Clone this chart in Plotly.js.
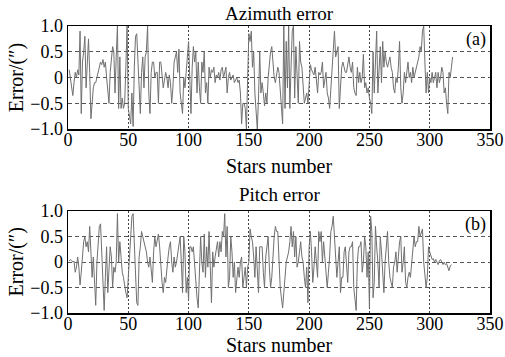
<!DOCTYPE html>
<html><head><meta charset="utf-8">
<script src="https://cdn.plot.ly/plotly-3.0.1.min.js"></script>
<style>html,body{margin:0;padding:0;background:#fff}#chart{width:505px;height:357px}</style>
</head><body><div id="chart"></div>
<script>
const azimuthError = [
 0.15, 0.0, -0.2, -0.35, -0.1, 0.1, 0.0, 0.15, 0.05, 0.9,
 -0.7, 0.3, 0.5, 0.8, -0.2, 0.3, 0.75, 0.1, -0.8, -0.5,
 -0.2, -0.1, -0.1, 0.0, 0.1, 0.2, 0.3, 0.25, 0.35, 0.2,
 0.3, 0.0, -0.2, -0.5, 0.1, 0.3, 0.6, 0.5, -0.3, 0.4,
 1.0, -0.6, 0.4, -0.6, -0.4, -0.6, -0.5, 0.2, 1.0, -0.6,
 -0.8, -0.9, -0.3, -0.95, 0.2, 0.8, 0.85, 0.3, -0.3, -0.7,
 0.1, 0.4, -0.2, 0.4, 0.5, 1.0, -0.3, -0.7, 0.1, 0.3,
 0.3, 0.0, 0.1, 0.1, -0.5, 0.3, 0.3, 0.0, -0.2, -0.05,
 0.1, 0.0, -0.2, 0.05, -0.1, -0.5, -0.2, 0.3, 0.4, 0.5,
 0.1, 0.55, -0.3, -0.5, -0.7, 0.0, -0.2, 0.1, 0.4, 0.7,
 0.0, -0.7, 0.2, 0.6, 0.3, 0.5, -0.3, 0.3, -0.2, -0.5,
 0.3, 0.1, 0.5, -0.3, -0.1, -0.5, 0.2, 0.0, 0.15, 0.1,
 0.2, -0.1, 0.05, 0.0, 0.1, -0.05, 0.15, 0.2, 0.0, 0.1,
 0.2, -0.3, 0.0, 0.1, -0.05, 0.0, 0.05, -0.1, -0.05, 0.0,
 -0.1, -0.05, -0.3, -0.9, -0.5, -0.5, -0.6, -1.0, 0.0, 0.85,
 0.7, 0.9, 0.2, 0.5, -0.3, -0.6, -1.0, -0.4, 0.5, -0.3,
 -0.1, -0.3, -0.55, -0.3, -0.5, 0.0, 0.3, 0.5, 0.6, 0.3,
 0.0, -0.1, 0.1, 0.2, 0.1, -0.3, -0.5, -0.9, 1.0, -0.6,
 0.7, -0.2, 1.0, -0.6, 0.2, 0.9, 1.0, -0.4, 0.6, -0.2,
 -0.5, 0.7, 0.3, 0.2, -0.3, -0.5, -0.4, -0.3, -0.5, 0.0,
 0.25, 0.15, 0.1, 0.05, 0.2, 0.0, -0.3, 0.1, 0.05, 0.1,
 0.3, -0.2, 0.0, 0.1, -0.3, -0.4, -0.6, -0.2, 0.3, 0.6,
 0.9, 0.4, 0.5, 0.6, -0.6, -0.1, 0.2, 0.3, 0.2, 0.1,
 0.1, 0.3, 0.4, 0.2, 0.1, 0.3, -0.2, -0.3, -0.35, 0.2,
 -0.1, 0.1, -0.1, 0.0, 0.45, -0.2, -0.1, -0.3, -0.2, -0.4,
 -0.5, -0.7, 0.5, -0.3, 0.2, 0.9, -0.3, 0.3, 0.6, -0.1,
 0.7, 0.2, 0.5, 0.3, 0.2, 0.3, 0.4, 0.2, 0.1, -0.2,
 -0.3, 0.0, -0.1, 0.2, 0.7, -0.2, -0.5, -0.3, 0.1, -0.1,
 0.1, 0.3, 0.0, 0.1, -0.1, 0.2, 0.0, 0.1, 0.2, 0.3,
 0.4, 0.6, 0.5, 0.9, 1.0, 0.3, -0.3, 0.1, -0.3, 0.0,
 -0.1, 0.1, -0.1, 0.0, 0.1, -0.2, 0.1, -0.1, 0.0, 0.2,
 0.1, -0.3, -0.2, -0.5, -0.7, 0.1, 0.0, 0.2, 0.4
];
const pitchError = [
 0.02, 0.05, 0.03, 0.0, 0.02, -0.2, -0.1, 0.1, -0.1, -0.45,
 -0.2, 0.2, 0.4, 0.5, 0.3, 0.4, 0.2, 0.7, 0.2, -0.3,
 0.1, -0.3, -0.85, 0.0, 0.5, 0.7, 0.75, 0.2, -0.5, -0.95,
 -0.3, 0.3, -0.6, -0.2, 0.3, 0.1, -0.5, -0.1, -0.2, 0.0,
 0.95, 0.0, 0.4, 0.1, -0.2, -0.3, -0.5, -0.6, -0.7, -0.3,
 0.1, 0.5, 0.9, 0.95, 0.3, -0.3, -0.8, -0.85, 0.1, 0.3,
 0.6, 0.5, 0.4, 0.3, 0.2, 0.0, -0.1, 0.1, -0.2, -0.4,
 0.2, 0.5, 0.3, 0.4, 0.55, 0.3, -0.2, -0.4, -0.6, -0.3,
 -0.4, -0.1, 0.1, 0.3, 0.4, 0.0, -0.2, 0.1, -0.1, 0.0,
 0.2, 0.4, 0.5, 0.0, -0.6, 0.5, 0.2, -0.6, -0.3, -0.75,
 0.3, 0.3, 0.2, 0.3, -0.1, -0.5, -0.7, -0.9, -0.2, 0.5,
 0.0, -0.2, 0.55, -0.3, 0.3, -0.1, 0.6, -0.3, -0.8, 0.2,
 -0.1, 0.1, 0.3, 0.4, 0.1, 0.4, 0.2, 0.6, 0.5, 0.95,
 0.1, 0.7, -0.5, -0.3, 0.5, 0.2, -0.3, 0.0, -0.6, -0.4,
 -0.1, -0.3, 0.0, 0.1, -0.5, -0.3, -0.1, -0.5, -0.1, 0.0,
 0.65, 0.5, 0.4, 0.1, -0.3, 0.3, -0.2, -0.6, 0.3, 0.3,
 0.3, -0.2, -0.5, 0.1, 0.3, 0.5, -0.1, -0.5, -0.3, 0.2,
 0.5, 0.7, 0.6, 0.6, 0.0, -0.5, -0.7, -0.9, -0.6, -0.2,
 0.0, 0.1, 0.2, 0.4, 0.7, 0.3, 0.6, 0.1, 0.5, -0.1,
 0.0, 0.2, 0.4, 0.1, 0.0, -0.3, -0.5, -0.1, -0.8, 0.3,
 0.6, 0.2, -0.4, -0.1, 0.3, 0.0, -0.3, 0.6, 0.4, 0.6,
 0.0, 0.4, 0.1, -0.2, -0.5, -0.2, 0.1, 0.6, 0.7, 0.9,
 0.5, -0.1, -0.3, 0.0, 0.3, -0.6, -0.3, -0.3, 0.2, 0.3,
 -0.1, -0.4, 0.2, 0.3, 0.3, 0.4, -0.5, -0.7, -0.95, 0.0,
 0.3, 0.3, 0.4, -0.2, 0.0, 0.5, 0.3, -0.3, 0.2, -0.9,
 0.9, 0.6, -0.7, -0.4, 0.7, 0.3, 0.0, -0.5, 0.5, 0.2,
 -0.3, -0.6, 0.0, 0.3, 0.6, 0.0, -0.3, -0.4, -0.5, -0.1,
 0.0, 0.2, -0.2, 0.1, 0.4, 0.5, -0.2, 0.0, 0.3, -0.4,
 -0.5, -0.3, -0.2, -0.3, 0.0, 0.2, 0.5, 0.3, 0.4, 0.4,
 0.7, 0.5, 0.6, 0.65, 0.0, -0.3, -0.5, -0.3, 0.3, 0.2,
 0.1, 0.05, 0.07, 0.0, 0.05, 0.0, -0.05, 0.02, 0.05, 0.0,
 -0.05, 0.0, -0.05, -0.03, -0.1, -0.17, -0.08, -0.05
];
const xTicks = [0, 50, 100, 150, 200, 250, 300, 350];
const yTicks = [-1.0, -0.5, 0, 0.5, 1.0];
const yTickText = ['\u22121.0', '\u22120.5', '0', '0.5', '1.0'];
const titles = ['Azimuth error', 'Pitch error'];
const xLabel = 'Stars number';
const yLabel = 'Error/(\u2033)';
const panelTags = ['(a)', '(b)'];

const starsA = azimuthError.map((v, i) => i + 1);
const starsP = pitchError.map((v, i) => i + 1);

const FONT = 'Liberation Serif';
const lineStyle = {color: '#707070', width: 1};

function xa(anchor) {
  return {
    domain: [0, 1], anchor: anchor, range: [0, 350], tickvals: xTicks,
    ticktext: xTicks.map(String),
    showline: true, mirror: true, linecolor: '#000', linewidth: 1.5,
    showgrid: true, gridcolor: '#444', griddash: '2px,2px', gridwidth: 1,
    zeroline: false, ticks: '', ticklabelstandoff: -6,
    tickfont: {family: FONT, size: 18, color: '#000'}
  };
}
function ya(anchor, domain) {
  return {
    domain: domain, anchor: anchor, range: [-1, 1], tickvals: yTicks, ticktext: yTickText,
    showline: true, mirror: true, linecolor: '#000', linewidth: 1.5,
    showgrid: true, gridcolor: '#555', griddash: '4px,3px', gridwidth: 1,
    zeroline: false, ticks: '', tickfont: {family: FONT, size: 18, color: '#000'}
  };
}

const data = [
  {x: starsA, y: azimuthError, type: 'scatter', mode: 'lines', line: lineStyle, xaxis: 'x', yaxis: 'y', hoverinfo: 'skip'},
  {x: starsP, y: pitchError, type: 'scatter', mode: 'lines', line: lineStyle, xaxis: 'x2', yaxis: 'y2', hoverinfo: 'skip'}
];

const ann = (text, x, y, extra) => Object.assign({text: text, x: x, y: y, xref: 'paper', yref: 'paper', showarrow: false,
  xanchor: 'center', yanchor: 'middle', font: {family: FONT, size: 19, color: '#000'}}, extra || {});

const layout = {
  width: 505, height: 357,
  margin: {l: 68, r: 15, t: 26, b: 44},
  paper_bgcolor: '#fff', plot_bgcolor: '#fff',
  font: {family: FONT},
  showlegend: false,
  xaxis: xa('y'),
  yaxis: ya('x', [0.641, 1]),
  xaxis2: xa('y2'),
  yaxis2: ya('x2', [0, 0.355]),
  annotations: [
    ann(titles[0], 0.5, 1.045),
    ann(xLabel, 0.5, 0.512, {font: {family: FONT, size: 20, color: '#000'}}),
    ann(titles[1], 0.5, 0.413),
    ann(xLabel, 0.5, -0.113, {font: {family: FONT, size: 20, color: '#000'}}),
    ann(yLabel, -0.122, 0.82, {textangle: -90, font: {family: FONT, size: 20, color: '#000'}}),
    ann(yLabel, -0.122, 0.178, {textangle: -90, font: {family: FONT, size: 20, color: '#000'}}),
    {text: panelTags[0], x: 338, y: 0.74, xref: 'x', yref: 'y', showarrow: false, font: {family: FONT, size: 18, color: '#000'}},
    {text: panelTags[1], x: 338, y: 0.74, xref: 'x2', yref: 'y2', showarrow: false, font: {family: FONT, size: 18, color: '#000'}}
  ]
};

Plotly.newPlot('chart', data, layout, {staticPlot: true, displayModeBar: false});
</script>
</body></html>
